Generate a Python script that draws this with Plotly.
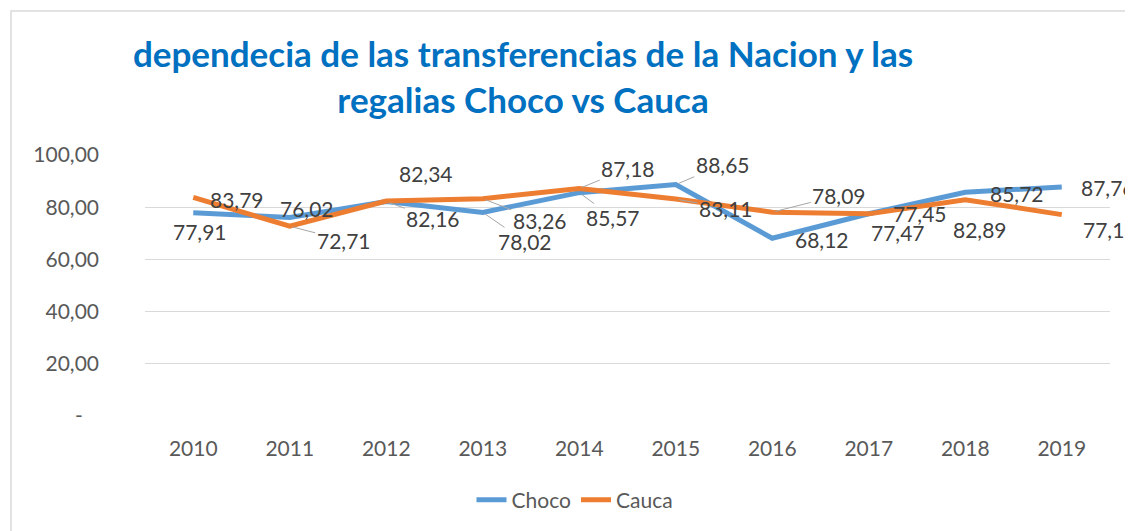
import plotly.graph_objects as go

years = ["2010", "2011", "2012", "2013", "2014", "2015", "2016", "2017", "2018", "2019"]
choco = [77.91, 76.02, 82.16, 78.02, 85.57, 88.65, 68.12, 77.47, 85.72, 87.76]
cauca = [83.79, 72.71, 82.34, 83.26, 87.18, 83.11, 78.09, 77.45, 82.89, 77.16]
y_ticks = [0, 20, 40, 60, 80, 100]
y_ticktext = ["-\u00a0\u00a0\u00a0", "20,00", "40,00", "60,00", "80,00", "100,00"]

# label offsets in pixels (dx, dy) and whether a leader line is drawn
choco_off = [(7, 19, 0), (17, -9, 0), (47, 17, 1), (42, 29, 1), (34, 25, 1),
             (47, -20, 1), (50, 1, 0), (29, 19, 0), (52, 1, 0), (46, 1, 0)]
cauca_off = [(44, 2, 0), (54, 14, 1), (40, -28, 0), (57, 22, 1), (49, -20, 1),
             (50, 9, 1), (67, -17, 1), (51, 0, 0), (15, 30, 0), (48, 15, 0)]

FONT = "Lato"
BLUE = "#5B9BD5"
ORANGE = "#ED7D31"

fig = go.Figure()
fig.add_trace(go.Scatter(x=years, y=choco, mode="lines", name="Choco",
                         line=dict(color=BLUE, width=5)))
fig.add_trace(go.Scatter(x=years, y=cauca, mode="lines", name="Cauca",
                         line=dict(color=ORANGE, width=5)))

def fmt(v):
    return f"{v:.2f}".replace(".", ",")

annos = []
for series, offs in ((choco, choco_off), (cauca, cauca_off)):
    for i, (v, (dx, dy, lead)) in enumerate(zip(series, offs)):
        if lead:
            annos.append(dict(x=i, y=v, text=fmt(v), showarrow=True, ax=dx, ay=dy,
                              arrowhead=0, arrowwidth=1, arrowcolor="#A6A6A6",
                              standoff=3, font=dict(family=FONT, size=21, color="#404040")))
        else:
            annos.append(dict(x=i, y=v, text=fmt(v), showarrow=False,
                              xshift=dx, yshift=-dy,
                              font=dict(family=FONT, size=21, color="#404040")))

fig.update_layout(
    width=1133, height=531,
    margin=dict(l=137, r=31, t=147, b=123),
    paper_bgcolor="white", plot_bgcolor="white",
    title=dict(text="dependecia de las transferencias de la Nacion y las<br>regalias Choco vs Cauca",
               x=515/1133, xanchor="center", y=1 - 59/531, yanchor="middle",
               font=dict(family=FONT, size=35, color="#0070C0", weight="bold")),
    xaxis=dict(type="category", range=[-0.5, 9.5], showgrid=False, showline=False, ticks="",
               ticklabelstandoff=18,
               tickfont=dict(family=FONT, size=21, color="#595959")),
    yaxis=dict(range=[0, 100], tickvals=y_ticks, ticktext=y_ticktext,
               showgrid=True, gridcolor="#D9D9D9", gridwidth=1.3, zeroline=False,
               showline=False, ticks="", ticklabelstandoff=45,
               tickfont=dict(family=FONT, size=21, color="#595959")),
    legend=dict(orientation="h", x=(575 - 145) / 965, y=(416 - 500) / 261,
                xanchor="center", yanchor="middle",
                font=dict(family=FONT, size=21, color="#595959")),
    showlegend=True,
    annotations=annos,
    shapes=[dict(type="rect", xref="paper", yref="paper",
                 x0=(11 - 145) / 965, x1=(1145 - 145) / 965,
                 y0=(416 - 545) / 261, y1=(416 - 11) / 261,
                 line=dict(color="#D9D9D9", width=1.5), layer="below")],
)

fig.write_html("out.html")
